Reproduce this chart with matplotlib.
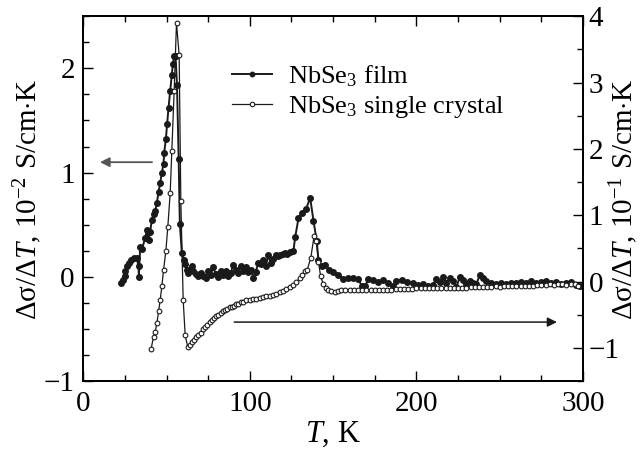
import matplotlib
matplotlib.use("Agg")
import matplotlib.pyplot as plt
from matplotlib.ticker import MultipleLocator
from matplotlib.lines import Line2D

plt.rcParams['font.family'] = ['Liberation Serif', 'DejaVu Serif']
plt.rcParams['mathtext.fontset'] = 'custom'
plt.rcParams['mathtext.rm'] = 'Liberation Serif'
plt.rcParams['mathtext.it'] = 'Liberation Serif:italic'
plt.rcParams['mathtext.bf'] = 'Liberation Serif:bold'

# NbSe3 film (left axis, 10^-2 S/cm K)
film_T = [22.8, 23.6, 24.8, 25.2, 26.2, 27.2, 28.6, 30.2, 32.2, 33.2, 33.4, 34.2, 35.3, 37.2, 38.2,
          39.2, 40.2, 41.2, 42.2, 43.2, 44.2, 45.2, 46.2, 47.2, 48.2, 48.6, 49.6, 50.4, 51.2, 52.2,
          53.2, 53.8, 54.6, 55.4, 56.3, 57.3, 58.0, 59.2, 60.2, 61.2, 62.2, 63.2, 64.2, 65.2, 66.2,
          67.5, 69, 70.5, 72, 73.5, 75, 76.5, 78, 79.5, 81, 82.5, 84, 85.5, 87, 88.5, 90, 91.5, 93,
          94.5, 96, 97.5, 99, 100.5, 102.2, 103.5, 105.2, 106.5, 108.2, 109.5, 111.2, 112.5, 114,
          115.5, 117, 118.2, 120, 121.2, 122.5, 124.2, 126.2, 127.2, 129.2, 131.2, 133.8, 136.2,
          138.2, 140.2, 141.2, 143.2, 145.2, 147.8, 150.2, 153.2, 156.2, 159.2, 162.2, 165.2, 167.2,
          169.2, 171.2, 174.2, 177.2, 180.2, 183.2, 186.2, 188, 191.2, 194.2, 198.2, 201, 204, 207,
          210, 212, 214, 216, 218, 220, 222, 224, 226, 228, 230, 232, 234, 236, 238, 240, 242, 245,
          248, 251, 254, 257, 260, 263, 266, 269, 272, 275, 278, 281, 284, 287, 290, 293, 296, 298]
film_val = [-0.06, -0.03, 0.01, 0.06, 0.10, 0.13, 0.16, 0.18, 0.18, 0.10, 0.00, 0.29, 0.27, 0.37, 0.45,
            0.35, 0.43, 0.55, 0.60, 0.63, 0.71, 0.81, 0.90, 1.00, 1.08, 1.19, 1.32, 1.47, 1.62, 1.78,
            1.94, 2.04, 2.12, 2.12, 1.84, 1.13, 0.51, 0.23, 0.16, 0.12, 0.07, 0.04, 0.07, 0.10, 0.06,
            0.03, 0.01, 0.04, 0.01, -0.01, 0.06, 0.02, 0.09, 0.03, 0.00, 0.06, 0.02, 0.06, 0.01, 0.04,
            0.11, 0.07, 0.04, 0.10, 0.06, 0.09, 0.05, 0.07, -0.01, 0.05, 0.13, 0.12, 0.16, 0.10, 0.21,
            0.13, 0.17, 0.21, 0.20, 0.21, 0.22, 0.23, 0.22, 0.24, 0.25, 0.38, 0.56, 0.61, 0.65, 0.76,
            0.54, 0.34, 0.16, 0.10, 0.11, 0.07, 0.05, 0.02, -0.02, -0.01, -0.01, -0.02, -0.09, -0.09,
            -0.02, -0.03, -0.05, -0.03, -0.06, -0.09, -0.04, -0.03, -0.05, -0.06, -0.08, -0.07, -0.09,
            -0.08, -0.02, -0.05, 0.00, -0.06, -0.01, -0.04, -0.10, 0.00, -0.03, -0.07, -0.04, -0.06,
            -0.07, 0.02, -0.01, -0.04, -0.06, -0.07, -0.06, -0.07, -0.06, -0.06, -0.05, -0.06, -0.04,
            -0.06, -0.05, -0.04, -0.06, -0.05, -0.07, -0.06, -0.05, -0.08, -0.09]

# NbSe3 single crystal (right axis, 10^-1 S/cm K)
crys_T = [40.8, 42.2, 43.2, 44.2, 45.2, 46.2, 47.2, 48.2, 49.6, 50.8, 52.2, 53.2, 54.6, 56.0, 57.6,
          58.6, 60.0, 61.2, 62.8, 64, 65.2, 66.5, 68, 69.2, 70.5, 72, 73.2, 74.5, 76, 77.2, 78.5, 80,
          81.2, 82.5, 84, 85.2, 86.5, 88, 89.2, 90.5, 92, 93.2, 94.5, 96, 98, 100, 102, 104, 106, 108,
          110, 112, 114, 116, 118, 120, 122, 124, 126, 128, 130, 131.5, 133, 134.5, 136.6, 138.6, 140.0,
          141.2, 142.5, 144, 145.5, 147, 149, 151, 153, 155, 157, 160, 162.5, 165, 167.5, 170, 172.5,
          175, 177.5, 180, 182.5, 185, 187.5, 190, 192.5, 195, 197.5, 200, 202.5, 205, 207.5, 210,
          212.5, 215, 217.5, 220, 222.5, 225, 227.5, 230, 232.5, 235, 237.5, 240, 242.5, 245, 247.5,
          250, 252.5, 255, 257.5, 260, 262.5, 265, 267.5, 270, 272.5, 275, 277.5, 280, 282.5, 285,
          287.5, 290, 292.5, 295, 297]
crys_val = [-1.01, -0.83, -0.76, -0.63, -0.45, -0.28, -0.07, 0.17, 0.46, 0.83, 1.33, 1.97, 2.88, 3.90, 3.41,
            1.21, -0.27, -0.81, -0.99, -0.95, -0.91, -0.88, -0.84, -0.81, -0.77, -0.72, -0.68, -0.65,
            -0.61, -0.58, -0.55, -0.52, -0.50, -0.48, -0.45, -0.43, -0.41, -0.39, -0.38, -0.36, -0.34,
            -0.33, -0.31, -0.30, -0.28, -0.27, -0.26, -0.26, -0.24, -0.23, -0.22, -0.21, -0.20, -0.18,
            -0.16, -0.14, -0.11, -0.08, -0.05, -0.01, 0.05, 0.10, 0.16, 0.18, 0.36, 0.69, 0.61, 0.30,
            0.08, -0.03, -0.09, -0.12, -0.14, -0.15, -0.14, -0.13, -0.12, -0.13, -0.13, -0.13, -0.13,
            -0.13, -0.13, -0.12, -0.12, -0.12, -0.12, -0.12, -0.11, -0.11, -0.11, -0.11, -0.11, -0.10,
            -0.10, -0.10, -0.09, -0.10, -0.09, -0.09, -0.10, -0.09, -0.09, -0.09, -0.09, -0.09, -0.08,
            -0.08, -0.08, -0.08, -0.08, -0.08, -0.07, -0.08, -0.07, -0.07, -0.07, -0.07, -0.06, -0.06,
            -0.06, -0.06, -0.05, -0.05, -0.05, -0.04, -0.05, -0.04, -0.03, -0.05, -0.04, -0.03, -0.06]

legend_labels = [r'NbSe$_3$ film', r'NbSe$_3$ single crystal']
xlabel = r'$T$, K'
ylabel_left = r'$\mathrm{\Delta\sigma/\Delta}T$, 10$^{-2}$ S/cm$\cdot$K'
ylabel_right = r'$\mathrm{\Delta\sigma/\Delta}T$, 10$^{-1}$ S/cm$\cdot$K'

fig = plt.figure(figsize=(6.4, 4.5), dpi=100)
ax = fig.add_axes([0.130, 0.153, 0.781, 0.811])
ax2 = ax.twinx()

fs_tick = 21
fs_label = 21
fs_leg = 19
ax.plot(film_T, film_val, '-', color='#1a1a1a', lw=1.4, marker='o', ms=4.0,
        mfc='#1a1a1a', mec='#1a1a1a', zorder=2)
ax2.plot(crys_T, crys_val, '-', color='#1a1a1a', lw=0.9, marker='o', ms=3.4,
         mfc='white', mec='#1a1a1a', mew=0.8, zorder=3)

ax.set_xlim(0, 300)
ax.set_ylim(-1, 2.5)
ax2.set_ylim(-1.5, 4)

ax.xaxis.set_major_locator(MultipleLocator(100))
ax.xaxis.set_minor_locator(MultipleLocator(25))
ax.yaxis.set_major_locator(MultipleLocator(1))
ax.yaxis.set_minor_locator(MultipleLocator(0.25))
ax2.yaxis.set_major_locator(MultipleLocator(1))
ax2.yaxis.set_minor_locator(MultipleLocator(0.5))

ax.tick_params(axis='both', which='both', direction='in', top=True, right=False, labelsize=fs_tick)
ax.tick_params(which='major', length=7, width=1.0)
ax.tick_params(which='minor', length=4.5, width=1.0)
ax.tick_params(axis='y', pad=6)
ax.tick_params(axis='x', pad=7)
ax2.tick_params(axis='y', which='both', direction='in', labelsize=fs_tick, pad=4)
ax2.tick_params(which='major', length=7, width=1.0)
ax2.tick_params(which='minor', length=4.5, width=1.0)

for a in (ax, ax2):
    for s in a.spines.values():
        s.set_linewidth(1.3)

ax.set_xlabel(xlabel, fontsize=fs_label + 1, labelpad=2)
ax.set_ylabel(ylabel_left, fontsize=fs_label, va='center')
ax.yaxis.set_label_coords(-0.112, 0.5)
ax2.set_ylabel(ylabel_right, fontsize=fs_label, va='center', rotation=90)
ax2.yaxis.set_label_coords(1.081, 0.5)

ax.annotate('', xy=(8.4, 1.10), xytext=(43, 1.10),
            arrowprops=dict(arrowstyle='-|>', color='#555555', lw=1.3, mutation_scale=14))
ax2.annotate('', xy=(286, -0.61), xytext=(89, -0.61),
             arrowprops=dict(arrowstyle='-|>', color='#1a1a1a', lw=1.1, mutation_scale=14))

handles = [Line2D([], [], color='#1a1a1a', lw=1.4, marker='o', ms=3.2, mfc='#1a1a1a', mec='#1a1a1a'),
           Line2D([], [], color='#1a1a1a', lw=0.9, marker='o', ms=3.2, mfc='white', mec='#1a1a1a', mew=0.8)]
ax2.legend(handles, legend_labels, loc='upper left', bbox_to_anchor=(0.277, 0.90),
           frameon=False, fontsize=fs_leg, handlelength=1.5, handletextpad=0.6, labelspacing=0.2,
           borderaxespad=0.0)

fig.savefig('out.png', dpi=100)
